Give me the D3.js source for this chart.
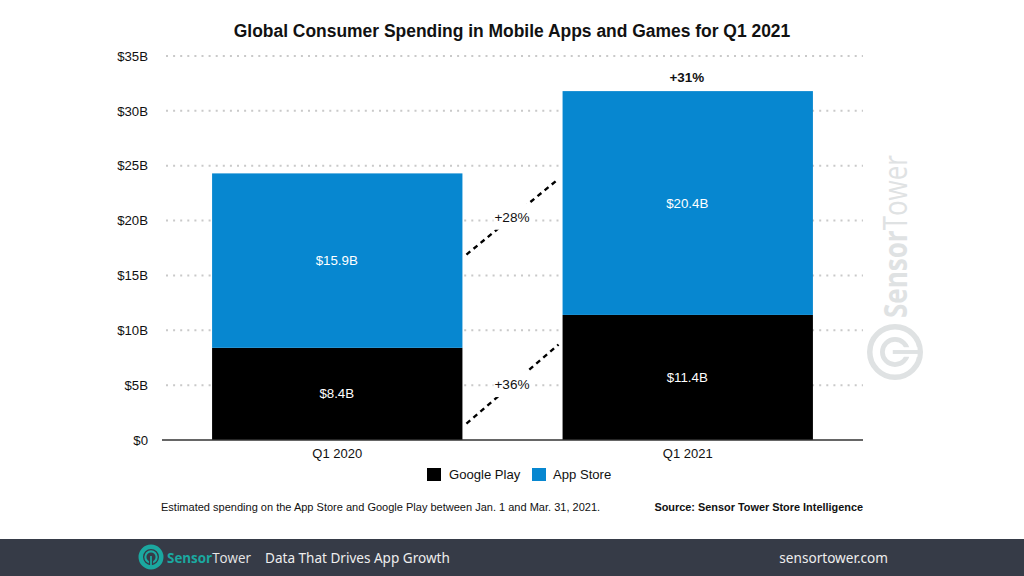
<!DOCTYPE html>
<html>
<head>
<meta charset="utf-8">
<script src="https://cdn.jsdelivr.net/npm/d3@7"></script>
<style>
html, body { margin: 0; padding: 0; background: #fff; }
svg { display: block; }
text { font-family: "Liberation Sans", sans-serif; fill: #111; }
</style>
</head>
<body>
<script>
"use strict";

var quarters = ["Q1 2020", "Q1 2021"];
var googlePlay = [8.4, 11.4];
var appStore = [15.9, 20.4];
var seriesNames = ["Google Play", "App Store"];
var seriesColors = ["#000000", "#0787d0"];
var yTicks = [0, 5, 10, 15, 20, 25, 30, 35];
// growth connectors between the bars, in $B at each end
var connectorLabels = ["+36%", "+28%"];
var connectorStart = [1.5, 16.9];
var connectorEnd = [8.7, 23.8];
var totalLabel = "+31%";

var width = 1024;
var height = 576;

var svg = d3.select("body").append("svg")
	.attr("width", width)
	.attr("height", height);

var y = d3.scaleLinear().domain([0, 35]).range([440, 56]);
var x = d3.scaleBand().domain(quarters).range([162, 863])
	.paddingInner(0.2857).paddingOuter(0.1429);

svg.append("text")
	.attr("x", 512).attr("y", 37)
	.attr("text-anchor", "middle")
	.style("font-size", "17.45px").style("font-weight", "bold")
	.text("Global Consumer Spending in Mobile Apps and Games for Q1 2021");

// Grid lines go first, the bars cover them
svg.append("g").selectAll("line")
	.data(yTicks.slice(1))
	.enter().append("line")
	.attr("x1", 166).attr("x2", 863)
	.attr("y1", function(d){ return y(d); })
	.attr("y2", function(d){ return y(d); })
	.attr("stroke", "#c9c9c9")
	.attr("stroke-width", 2)
	.attr("stroke-dasharray", "2 5.1");

var yAxis = svg.append("g")
	.attr("transform", "translate(148,0)")
	.call(d3.axisLeft(y).tickValues(yTicks).tickSize(0).tickPadding(0)
		.tickFormat(function(d){ return d === 0 ? "$0" : "$" + d + "B"; }));
yAxis.select(".domain").remove();
yAxis.selectAll("text").style("font-size", "13.2px")
	.style("font-family", "'Liberation Sans', sans-serif").style("fill", "#111");

// Stacked bars
var stack = d3.stack().keys([0, 1]).value(function(row, key){ return row[key]; });
var rows = quarters.map(function(q, i){ return [googlePlay[i], appStore[i]]; });
var layers = stack(rows);

layers.forEach(function(layer, s){
	var g = svg.append("g");
	g.selectAll("rect").data(layer).enter().append("rect")
		.attr("x", function(d, i){ return x(quarters[i]); })
		.attr("width", x.bandwidth())
		.attr("y", function(d){ return y(d[1]); })
		.attr("height", function(d){ return y(d[0]) - y(d[1]); })
		.attr("fill", seriesColors[s]);
	g.selectAll("text").data(layer).enter().append("text")
		.attr("x", function(d, i){ return x(quarters[i]) + x.bandwidth() / 2 - 0.5; })
		.attr("y", function(d){ return (y(d[0]) + y(d[1])) / 2 + 4.5; })
		.attr("text-anchor", "middle")
		.style("font-size", "13.3px").style("fill", "#fff")
		.text(function(d){ return "$" + (d[1] - d[0]).toFixed(1) + "B"; });
});

// Base line
svg.append("line")
	.attr("x1", 162).attr("x2", 863).attr("y1", y(0)).attr("y2", y(0))
	.attr("stroke", "#333").attr("stroke-width", 1.5);

svg.append("g").selectAll("text").data(quarters).enter().append("text")
	.attr("x", function(d){ return x(d) + x.bandwidth() / 2; })
	.attr("y", 458)
	.attr("text-anchor", "middle")
	.style("font-size", "13px")
	.text(function(d){ return d; });

svg.append("text")
	.attr("x", x(quarters[1]) + x.bandwidth() / 2 - 1).attr("y", 82)
	.attr("text-anchor", "middle")
	.style("font-size", "13.4px").style("font-weight", "bold")
	.text(totalLabel);

// Dashed growth connectors, white box behind the label makes the gap
var x0 = x(quarters[0]) + x.bandwidth() + 4;
var x1 = x(quarters[1]) - 4;
connectorLabels.forEach(function(label, i){
	var y0 = y(connectorStart[i]);
	var y1 = y(connectorEnd[i]);
	svg.append("line")
		.attr("x1", x0).attr("y1", y0).attr("x2", x1).attr("y2", y1)
		.attr("stroke", "#000").attr("stroke-width", 2.4)
		.attr("stroke-dasharray", "5 4.2");
	svg.append("rect")
		.attr("x", (x0 + x1) / 2 - 19).attr("y", (y0 + y1) / 2 - 13)
		.attr("width", 38).attr("height", 26)
		.attr("fill", "#fff");
	svg.append("text")
		.attr("x", (x0 + x1) / 2 - 0.5).attr("y", (y0 + y1) / 2 + 5)
		.attr("text-anchor", "middle")
		.style("font-size", "13.6px")
		.text(label);
});

// Legend
var legendX = [427, 532];
seriesNames.forEach(function(name, i){
	svg.append("rect")
		.attr("x", legendX[i]).attr("y", 468)
		.attr("width", 14).attr("height", 13)
		.attr("fill", seriesColors[i]);
	svg.append("text")
		.attr("x", legendX[i] + 22 - i).attr("y", 479)
		.style("font-size", "13.1px")
		.text(name);
});

// Notes
svg.append("text")
	.attr("x", 161).attr("y", 511)
	.style("font-size", "11.03px")
	.text("Estimated spending on the App Store and Google Play between Jan. 1 and Mar. 31, 2021.");
svg.append("text")
	.attr("x", 863).attr("y", 511)
	.attr("text-anchor", "end")
	.style("font-size", "10.9px").style("font-weight", "bold")
	.text("Source: Sensor Tower Store Intelligence");

// The ring logo, used for the watermark and in the footer. Stem points down.
function Logo(parent, cx, cy, r, color, bg, ring){
	var g = parent.append("g");
	g.append("circle").attr("cx", cx).attr("cy", cy).attr("r", r - ring / 2)
		.attr("fill", "none").attr("stroke", color).attr("stroke-width", ring);
	g.append("circle").attr("cx", cx).attr("cy", cy).attr("r", r * 0.45)
		.attr("fill", "none").attr("stroke", color).attr("stroke-width", r * 0.17);
	g.append("rect")
		.attr("x", cx - r * 0.17).attr("y", cy)
		.attr("width", r * 0.34).attr("height", r - ring)
		.attr("fill", bg);
	g.append("rect")
		.attr("x", cx - r * 0.07).attr("y", cy - r * 0.08)
		.attr("width", r * 0.14).attr("height", r)
		.attr("fill", color);
	return g;
}

// Watermark
Logo(svg, 895, 352, 28, "#dfe2e3", "#fff", 5.5)
	.attr("transform", "rotate(-90 895 352)");
svg.append("text")
	.attr("transform", "translate(907,318) rotate(-90)")
	.attr("textLength", 163)
	.attr("lengthAdjust", "spacingAndGlyphs")
	.style("font-family", "'Open Sans', sans-serif")
	.style("font-size", "32px")
	.style("fill", "#dfe2e3")
	.html('<tspan font-weight="700">Sensor</tspan><tspan>Tower</tspan>');

// Footer band
svg.append("rect")
	.attr("x", 0).attr("y", 539).attr("width", width).attr("height", 37)
	.attr("fill", "#363b47");
Logo(svg, 151, 557, 12.5, "#1ba8a0", "#363b47", 4.5);
svg.append("text")
	.attr("x", 167).attr("y", 563)
	.attr("textLength", 84)
	.attr("lengthAdjust", "spacingAndGlyphs")
	.style("font-family", "'Open Sans', sans-serif")
	.style("font-size", "14px")
	.style("fill", "#e8e8e8")
	.html('<tspan font-weight="700" style="fill:#1ba8a0">Sensor</tspan><tspan>Tower</tspan>');
svg.append("text")
	.attr("x", 265).attr("y", 563)
	.style("font-family", "'Noto Sans', sans-serif")
	.style("font-size", "13.55px")
	.style("fill", "#eee")
	.text("Data That Drives App Growth");
svg.append("text")
	.attr("x", 888).attr("y", 563)
	.attr("text-anchor", "end")
	.style("font-family", "'Noto Sans', sans-serif")
	.style("font-size", "13.6px")
	.style("fill", "#eee")
	.text("sensortower.com");
</script>
</body>
</html>
